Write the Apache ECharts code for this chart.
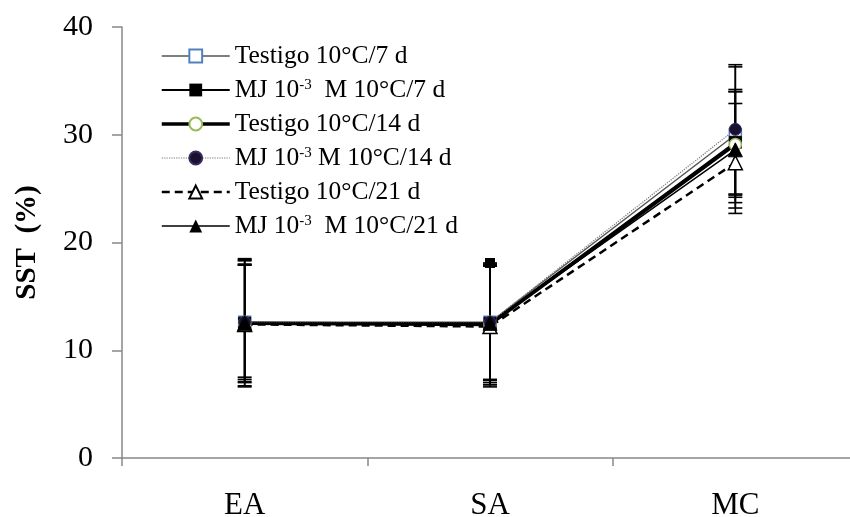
<!DOCTYPE html>
<html>
<head>
<meta charset="utf-8">
<script src="https://cdn.jsdelivr.net/npm/echarts@6/dist/echarts.min.js"></script>
<style>
  html, body { margin: 0; padding: 0; background: #fff; }
  #chart { width: 850px; height: 517px; }
</style>
</head>
<body>
<div id="chart"></div>
<script>
// categorias y valores
var categorias = ['EA', 'SA', 'MC'];
var yTicks = [0, 10, 20, 30, 40];

var testigo7  = [12.6, 12.6, 30.0];
var mj7       = [12.5, 12.5, 29.3];
var testigo14 = [12.5, 12.4, 29.1];
var mj14      = [12.6, 12.6, 30.5];
var testigo21 = [12.4, 12.2, 27.4];
var mj21      = [12.5, 12.5, 28.6];

// barras de error [categoria, inferior, superior]
var errTestigo7  = [[0, 7.5, 18.5], [1, 7.3, 17.9], [2, 23.7, 36.3]];
var errMj7       = [[0, 7.0, 17.9], [1, 6.8, 18.1], [2, 24.4, 34.2]];
var errTestigo14 = [[0, 6.6, 18.4], [1, 6.8, 17.8], [2, 24.2, 34.0]];
var errMj14      = [[0, 7.1, 18.3], [1, 7.2, 18.0], [2, 24.5, 36.5]];
var errTestigo21 = [[0, 6.7, 18.0], [1, 6.6, 17.8], [2, 22.7, 32.9]];
var errMj21      = [[0, 7.3, 17.9], [1, 7.0, 17.9], [2, 23.2, 34.0]];

var serif = '"Liberation Serif", "DejaVu Serif", serif';

var myChart = echarts.init(document.getElementById('chart'));

function errorBar(data, squareTop) {
	return {
		type: 'custom',
		silent: true,
		z: 1,
		data: data,
		renderItem: function(params, api) {
			var x = api.value(0);
			var lo = api.coord([x, api.value(1)]);
			var hi = api.coord([x, api.value(2)]);
			var w = 7;
			var st = { stroke: '#000', lineWidth: 1.6 };
			var children = [
				{ type: 'line', shape: { x1: lo[0], y1: lo[1], x2: hi[0], y2: hi[1] }, style: st },
				{ type: 'line', shape: { x1: lo[0] - w, y1: lo[1], x2: lo[0] + w, y2: lo[1] }, style: st },
				{ type: 'line', shape: { x1: hi[0] - w, y1: hi[1], x2: hi[0] + w, y2: hi[1] }, style: st }
			];
			// en SA el extremo superior aparece como un cuadrado negro
			if (squareTop && x == 1) {
				children.push({ type: 'rect', shape: { x: hi[0] - 5, y: hi[1] - 5, width: 10, height: 10 }, style: { fill: '#000' } });
			}
			return { type: 'group', children: children };
		}
	};
}

var option = {
	animation: false,
	backgroundColor: '#fff',
	grid: { left: 122, top: 27, bottom: 59, width: 736, outerBoundsMode: 'none', containLabel: false },
	legend: {
		left: 155,
		top: 38,
		orient: 'vertical',
		itemWidth: 68,
		itemHeight: 16,
		itemGap: 8,
		itemTextGap: 10,
		data: [
			{ name: 't7', lineStyle: { width: 1.5, color: '#555' } },
			{ name: 'm7', lineStyle: { width: 2, color: '#000' } },
			{ name: 't14', lineStyle: { width: 3.5, color: '#000' } },
			{ name: 'm14', lineStyle: { width: 1.2, color: '#777', type: 'dotted' } },
			{ name: 't21', lineStyle: { width: 2.5, color: '#000', type: [8, 5] } },
			{ name: 'm21', lineStyle: { width: 1.5, color: '#000' } }
		],
		formatter: function(n) {
			var map = {
				t7: '{a|Testigo 10°C/7 d}',
				m7: '{a|MJ 10}{s|-3}{a|  M 10°C/7 d}',
				t14: '{a|Testigo 10°C/14 d}',
				m14: '{a|MJ 10}{s|-3}{a| M 10°C/14 d}',
				t21: '{a|Testigo 10°C/21 d}',
				m21: '{a|MJ 10}{s|-3}{a|  M 10°C/21 d}'
			};
			return map[n];
		},
		textStyle: {
			rich: {
				a: { fontFamily: serif, fontSize: 25.5, lineHeight: 25.5, color: '#000' },
				s: { fontFamily: serif, fontSize: 15, lineHeight: 25.5, color: '#000', verticalAlign: 'top', padding: [0, 0, 9, 0] }
			}
		}
	},
	xAxis: {
		type: 'category',
		data: categorias,
		boundaryGap: true,
		axisLine: { lineStyle: { color: '#888', width: 1.5 } },
		axisTick: { show: true, length: 8, lineStyle: { color: '#888', width: 1.5 } },
		axisLabel: { fontFamily: serif, fontSize: 31, color: '#000', margin: 32 },
		splitLine: { show: false }
	},
	yAxis: {
		type: 'value',
		min: 0,
		max: 40,
		interval: 10,
		name: 'SST  (%)',
		nameLocation: 'middle',
		nameGap: 80,
		nameTextStyle: { fontFamily: serif, fontSize: 29, fontWeight: 'bold', color: '#000' },
		axisLine: { show: true, lineStyle: { color: '#888', width: 1.5 } },
		axisTick: { show: true, length: 10, lineStyle: { color: '#888', width: 1.5 } },
		axisLabel: { fontFamily: serif, fontSize: 30, color: '#000', margin: 29,
			formatter: function(v) { return yTicks.indexOf(v) >= 0 ? String(v) : ''; } },
		splitLine: { show: false }
	},
	series: [
		errorBar(errTestigo7, false),
		errorBar(errMj7, true),
		errorBar(errTestigo14, false),
		errorBar(errMj14, false),
		errorBar(errTestigo21, false),
		errorBar(errMj21, false),
		{
			name: 't7', type: 'line', data: testigo7, z: 3,
			symbol: 'rect', symbolSize: 12,
			lineStyle: { color: '#555', width: 1.5 },
			itemStyle: { color: '#fff', borderColor: '#4f81bd', borderWidth: 1.5 }
		}, {
			name: 'm7', type: 'line', data: mj7, z: 3,
			symbol: 'rect', symbolSize: 12,
			lineStyle: { color: '#000', width: 2 },
			itemStyle: { color: '#000', borderColor: '#000' }
		}, {
			name: 't14', type: 'line', data: testigo14, z: 3,
			symbol: 'circle', symbolSize: 12,
			lineStyle: { color: '#000', width: 3.5 },
			itemStyle: { color: '#fff', borderColor: '#9bbb59', borderWidth: 1.5 }
		}, {
			name: 'm14', type: 'line', data: mj14, z: 3,
			symbol: 'circle', symbolSize: 12,
			lineStyle: { color: '#777', width: 1.2, type: 'dotted' },
			itemStyle: { color: '#1a1030', borderColor: '#3a2a60', borderWidth: 1 }
		}, {
			name: 't21', type: 'line', data: testigo21, z: 3,
			symbol: 'triangle', symbolSize: 14,
			lineStyle: { color: '#000', width: 2.5, type: [8, 5] },
			itemStyle: { color: '#fff', borderColor: '#000', borderWidth: 1.5 }
		}, {
			name: 'm21', type: 'line', data: mj21, z: 3,
			symbol: 'triangle', symbolSize: 14,
			lineStyle: { color: '#000', width: 1.5 },
			itemStyle: { color: '#000', borderColor: '#000' }
		}
	]
};
myChart.setOption(option);
</script>
</body>
</html>
